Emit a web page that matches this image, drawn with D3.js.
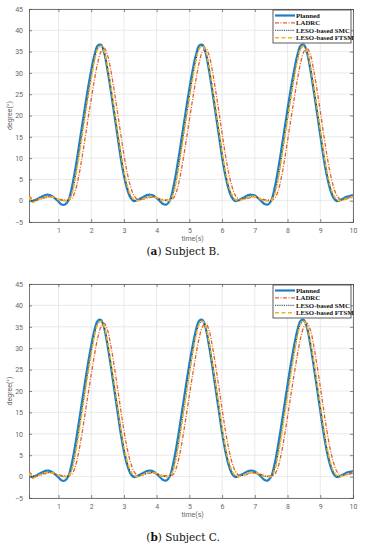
<!DOCTYPE html>
<html>
<head>
<meta charset="utf-8">
<script src="https://cdn.jsdelivr.net/npm/d3@7/dist/d3.min.js"></script>
<style>
  html, body { margin: 0; padding: 0; background: #fff; }
  svg { display: block; }
</style>
</head>
<body>
<svg id="chart"></svg>
<script>
'use strict';

const WIDTH = 365;
const HEIGHT = 550;

// time axis, 0.1 s steps
const TIME = d3.range(1, 101).map(i => i / 10);

const X_TICKS = [1, 2, 3, 4, 5, 6, 7, 8, 9, 10];
const Y_TICKS = [-5, 0, 5, 10, 15, 20, 25, 30, 35, 40, 45];

const SERIES_NAMES = ['Planned', 'LADRC', 'LESO-based SMC', 'LESO-based FTSM'];

// values (degrees)
const plannedB = [
  0.1, -0.1, 0.2, 0.6, 1.0, 1.35, 1.4, 1.1, 0.5, -0.2, -0.9, -0.9,
  0.0, 2.8, 6.8, 11.5, 16.5, 21.5, 26.3, 30.6, 34.2, 36.4, 36.6, 34.6, 30.6, 25.8, 20.6, 15.4, 10.2, 5.9, 2.7, 0.7, -0.1, 0.1, 0.5, 0.9, 1.3, 1.4, 1.2, 0.6, -0.1, -0.8, -0.9,
  0.0, 2.8, 6.8, 11.5, 16.5, 21.5, 26.3, 30.6, 34.2, 36.4, 36.6, 34.6, 30.6, 25.8, 20.6, 15.4, 10.2, 5.9, 2.7, 0.7, -0.1, 0.1, 0.5, 0.9, 1.3, 1.4, 1.2, 0.6, -0.1, -0.8, -0.9,
  0.0, 2.8, 6.8, 11.5, 16.5, 21.5, 26.3, 30.6, 34.2, 36.4, 36.6, 34.6, 30.6, 25.8, 20.6, 15.4, 10.2, 5.9, 2.7, 0.7, -0.1, 0.1, 0.5, 0.9, 1.1, 1.3
];
const ladrcB = [
  1.2, 0.4, 0.2, 0.3, 0.5, 0.7, 0.85, 0.85, 0.65, 0.4, 0.25, 0.2,
  0.2, 0.5, 2.0, 5.0, 9.2, 14.0, 19.0, 23.8, 28.4, 32.4, 35.0, 35.8, 34.2, 30.6, 26.0, 21.0, 15.8, 10.8, 6.6, 3.4, 1.3, 0.4, 0.3, 0.4, 0.6, 0.8, 0.85, 0.7, 0.45, 0.25, 0.2,
  0.2, 0.5, 2.0, 5.0, 9.2, 14.0, 19.0, 23.8, 28.4, 32.4, 35.0, 35.8, 34.2, 30.6, 26.0, 21.0, 15.8, 10.8, 6.6, 3.4, 1.3, 0.4, 0.3, 0.4, 0.6, 0.8, 0.85, 0.7, 0.45, 0.25, 0.2,
  0.2, 0.5, 2.0, 5.0, 9.2, 14.0, 19.0, 23.8, 28.4, 32.4, 35.0, 35.8, 34.2, 30.6, 26.0, 21.0, 15.8, 10.8, 6.6, 3.4, 1.3, 0.4, 0.3, 0.4, 0.6, 0.8
];
const smcB = [
  0.4, 0.0, 0.0, 0.3, 0.6, 0.85, 0.95, 0.85, 0.55, 0.25, 0.05, 0.0,
  0.1, 1.6, 4.9, 9.3, 14.4, 19.4, 24.3, 28.9, 33.0, 35.7, 36.3, 34.8, 31.3, 26.7, 21.7, 16.5, 11.3, 6.8, 3.4, 1.2, 0.2, 0.0, 0.2, 0.5, 0.8, 0.95, 0.9, 0.65, 0.3, 0.05, 0.0,
  0.1, 1.6, 4.9, 9.3, 14.4, 19.4, 24.3, 28.9, 33.0, 35.7, 36.3, 34.8, 31.3, 26.7, 21.7, 16.5, 11.3, 6.8, 3.4, 1.2, 0.2, 0.0, 0.2, 0.5, 0.8, 0.95, 0.9, 0.65, 0.3, 0.05, 0.0,
  0.1, 1.6, 4.9, 9.3, 14.4, 19.4, 24.3, 28.9, 33.0, 35.7, 36.3, 34.8, 31.3, 26.7, 21.7, 16.5, 11.3, 6.8, 3.4, 1.2, 0.2, 0.0, 0.2, 0.5, 0.8, 0.95
];
const ftsmB = [
  0.9, -0.4, -0.1, 0.3, 0.6, 0.9, 1.0, 0.9, 0.6, 0.3, 0.05, 0.0,
  0.1, 1.4, 4.6, 9.0, 14.0, 19.0, 24.0, 28.6, 32.8, 35.6, 36.3, 35.0, 31.6, 27.0, 22.0, 16.8, 11.6, 7.0, 3.6, 1.4, 0.3, 0.0, 0.2, 0.5, 0.8, 1.0, 0.95, 0.7, 0.3, 0.05, 0.0,
  0.1, 1.4, 4.6, 9.0, 14.0, 19.0, 24.0, 28.6, 32.8, 35.6, 36.3, 35.0, 31.6, 27.0, 22.0, 16.8, 11.6, 7.0, 3.6, 1.4, 0.3, 0.0, 0.2, 0.5, 0.8, 1.0, 0.95, 0.7, 0.3, 0.05, 0.0,
  0.1, 1.4, 4.6, 9.0, 14.0, 19.0, 24.0, 28.6, 32.8, 35.6, 36.3, 35.0, 31.6, 27.0, 22.0, 16.8, 11.6, 7.0, 3.6, 1.4, 0.3, 0.0, 0.2, 0.5, 0.8, 1.0
];

// subject C looks the same as B in the figure
const plannedC = plannedB;
const ladrcC = ladrcB;
const smcC = smcB;
const ftsmC = ftsmB;

const STYLES = [
  { color: '#1f7fc4', width: 2.2, dash: null },
  { color: '#e0622a', width: 1.3, dash: '4,1.5,1,1.5' },
  { color: '#2b3340', width: 1.0, dash: '1.2,1' },
  { color: '#efb622', width: 1.6, dash: '4,2.5' },
];

const PANELS = [
  { top: 9, bottom: 222, label: 'a', caption: ' Subject B.', captionY: 255, series: [plannedB, ladrcB, smcB, ftsmB] },
  { top: 284, bottom: 498, label: 'b', caption: ' Subject C.', captionY: 541, series: [plannedC, ladrcC, smcC, ftsmC] },
];

const LEFT = 29;
const RIGHT = 353;

const svg = d3.select('#chart')
  .attr('width', WIDTH)
  .attr('height', HEIGHT)
  .attr('viewBox', `0 0 ${WIDTH} ${HEIGHT}`);

svg.append('rect').attr('width', WIDTH).attr('height', HEIGHT).attr('fill', '#fff');

function drawPanel(p) {
  const x = d3.scaleLinear().domain([0.1, 10]).range([LEFT, RIGHT]);
  const y = d3.scaleLinear().domain([-5, 45]).range([p.bottom, p.top]);
  const g = svg.append('g');

  // grid
  g.append('g').selectAll('line').data(X_TICKS).join('line')
    .attr('x1', d => x(d)).attr('x2', d => x(d))
    .attr('y1', p.top).attr('y2', p.bottom)
    .attr('stroke', '#e4e4e4').attr('stroke-width', 0.8);
  g.append('g').selectAll('line').data(Y_TICKS).join('line')
    .attr('x1', LEFT).attr('x2', RIGHT)
    .attr('y1', d => y(d)).attr('y2', d => y(d))
    .attr('stroke', '#e4e4e4').attr('stroke-width', 0.8);

  // axes
  const xAxis = d3.axisBottom(x).tickValues(X_TICKS).tickSize(-3).tickPadding(6);
  const yAxis = d3.axisLeft(y).tickValues(Y_TICKS).tickSize(-3).tickPadding(6);
  const xTop = d3.axisTop(x).tickValues(X_TICKS).tickSize(-3).tickFormat('');
  const yRight = d3.axisRight(y).tickValues(Y_TICKS).tickSize(-3).tickFormat('');

  const axes = [
    g.append('g').attr('transform', `translate(0,${p.bottom})`).call(xAxis),
    g.append('g').attr('transform', `translate(${LEFT},0)`).call(yAxis),
    g.append('g').attr('transform', `translate(0,${p.top})`).call(xTop),
    g.append('g').attr('transform', `translate(${RIGHT},0)`).call(yRight),
  ];
  axes.forEach(a => {
    a.select('.domain').attr('stroke', '#555').attr('stroke-width', 0.8);
    a.selectAll('.tick line').attr('stroke', '#555').attr('stroke-width', 0.7);
    a.selectAll('.tick text')
      .attr('fill', '#666').attr('font-family', 'Roboto, sans-serif').attr('font-size', 7);
  });

  // lines
  const clipId = 'clip-' + p.label;
  g.append('clipPath').attr('id', clipId).append('rect')
    .attr('x', LEFT).attr('y', p.top).attr('width', RIGHT - LEFT).attr('height', p.bottom - p.top);

  const line = d3.line()
    .x((d, i) => x(TIME[i]))
    .y(d => y(d))
    .curve(d3.curveCatmullRom.alpha(0.5));

  const linesG = g.append('g').attr('clip-path', `url(#${clipId})`);
  p.series.forEach((vals, i) => {
    const st = STYLES[i];
    linesG.append('path')
      .attr('d', line(vals))
      .attr('fill', 'none')
      .attr('stroke', st.color)
      .attr('stroke-width', st.width)
      .attr('stroke-dasharray', st.dash)
      .attr('stroke-linejoin', 'round');
  });

  // axis labels
  g.append('text')
    .attr('x', x(5.1)).attr('y', p.bottom + 19)
    .attr('text-anchor', 'middle')
    .attr('fill', '#666').attr('font-family', 'Roboto, sans-serif').attr('font-size', 7)
    .text('time(s)');
  g.append('text')
    .attr('transform', `translate(12,${(p.top + p.bottom) / 2}) rotate(-90)`)
    .attr('text-anchor', 'middle')
    .attr('fill', '#666').attr('font-family', 'Roboto, sans-serif').attr('font-size', 7)
    .text('degree(°)');

  // legend
  const lg = g.append('g').attr('transform', `translate(273,${p.top + 1})`);
  lg.append('rect').attr('width', 78).attr('height', 33)
    .attr('fill', '#fff').attr('stroke', '#333').attr('stroke-width', 0.8);
  SERIES_NAMES.forEach((name, i) => {
    const st = STYLES[i];
    const ly = 5.5 + i * 7.4;
    lg.append('line')
      .attr('x1', 2).attr('x2', 22).attr('y1', ly).attr('y2', ly)
      .attr('stroke', st.color).attr('stroke-width', st.width)
      .attr('stroke-dasharray', st.dash);
    lg.append('text')
      .attr('x', 23).attr('y', ly + 2.4)
      .attr('fill', '#111')
      .attr('font-family', '"Liberation Serif", serif').attr('font-size', 6.8).attr('font-weight', 'bold')
      .text(name);
  });

  // caption
  const cap = svg.append('text')
    .attr('x', 183).attr('y', p.captionY)
    .attr('text-anchor', 'middle')
    .attr('fill', '#111').attr('font-family', '"DejaVu Serif", serif').attr('font-size', 10.5);
  cap.append('tspan').text('(');
  cap.append('tspan').attr('font-weight', 'bold').text(p.label);
  cap.append('tspan').text(')' + p.caption);
}

PANELS.forEach(drawPanel);
</script>
</body>
</html>
